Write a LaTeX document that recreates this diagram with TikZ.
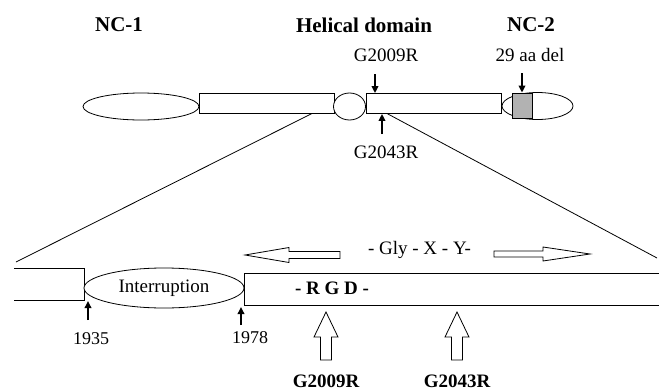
\documentclass[tikz,border=0pt]{standalone}
\usepackage{fontspec}
\setmainfont{Liberation Serif}
\usetikzlibrary{positioning, arrows.meta, shapes.geometric}
\tikzset{
  dom/.style={draw, line width=0.8pt, inner sep=0pt, fill=white},
  drect/.style={dom, rectangle, minimum width=135pt, minimum height=20pt},
  dell/.style={dom, ellipse},
  lbl/.style={font=\fontsize{19}{21}\selectfont, inner sep=0pt},
  blbl/.style={font=\fontsize{19}{21}\selectfont\bfseries, inner sep=0pt},
  hdr/.style={font=\fontsize{21}{24}\selectfont\bfseries, inner sep=0pt},
  poslbl/.style={font=\fontsize{18}{20}\selectfont, inner sep=0pt},
  mut/.style={-{Triangle[length=7pt,width=6.5pt]}, line width=2.2pt},
  zoomln/.style={line width=0.8pt},
  hollow/.style={draw, line width=0.8pt, fill=white, line join=miter},
}

\begin{document}
\begin{tikzpicture}[x=1pt, y=-1pt]
\useasboundingbox (0,0) rectangle (659,391);
% headings
\node[hdr] (nc1lab) at (119,25) {NC-1};
\node[hdr] (hxlab) at (364,25) {Helical domain};
\node[hdr] (nc2lab) at (531,25) {NC-2};
% whole molecule
\node[dell, minimum width=116pt, minimum height=27pt] (nc1) at (141,106.5) {};
\node[drect] (hx1) at (266.5,103.5) {};
\node[dell, minimum width=32pt, minimum height=27pt] (hinge) at (349.5,106.5) {};
\node[drect] (hx2) at (433.5,103.5) {};
\node[dell, minimum width=71pt, minimum height=27pt] (nc2) at (537.5,106) {};
\node[dom, fill=gray!60, minimum width=20pt, minimum height=25pt] (del) at (522,105.5) {};
% mutations, upper row
\node[lbl] (g09top) at (386,55) {G2009R};
\node[lbl] (dellab) at (530,55) {29 aa del};
\node[lbl] (g43top) at (386,152) {G2043R};
\coordinate (g09tail) at (375,74);
\coordinate (deltail) at (522,73);
\coordinate (g43tail) at (382,134);
\draw[mut] (g09tail) -- (hx2.north -| g09tail);
\draw[mut] (deltail) -- (del.north);
\draw[mut] (g43tail) -- (hx2.south -| g43tail);
% zoom lines
\coordinate (zlt) at (312,113.5);
\coordinate (zlb) at (16,262);
\coordinate (zrt) at (387,113.5);
\coordinate (zrb) at (657,258);
\draw[zoomln] (zlt) -- (zlb);
\draw[zoomln] (zrt) -- (zrb);
% enlarged region
\draw[zoomln] (14,268) -- (84,268) -- (84,300) -- (14,300);
\draw[zoomln] (660,273) -- (244,273) -- (244,305) -- (660,305);
\node[dell, font=\fontsize{19}{21}\selectfont, minimum width=160pt, minimum height=40pt] (intr) at (164,288) {Interruption};
\node[blbl] (rgd) at (332,288) {- R G D -};
\node[lbl] (gxy) at (419.5,250) {- Gly - X - Y-};
\draw[hollow] (245,255) -- (289,247.5) -- (289,251.5) -- (340,251.5) -- (340,258.5) -- (289,258.5) -- (289,262.5) -- cycle;
\draw[hollow] (590,254) -- (543,261) -- (543,257) -- (494,257) -- (494,251) -- (543,251) -- (543,247) -- cycle;
% boundaries of the interruption
\coordinate (t35) at (88,301);
\coordinate (p35) at (88,320);
\coordinate (t78) at (241,307);
\coordinate (p78) at (241,325);
\draw[mut] (p35) -- (t35);
\draw[mut] (p78) -- (t78);
\node[poslbl] (n35) at (91,339) {1935};
\node[poslbl] (n78) at (250,338) {1978};
% mutations, enlarged
\foreach \cx/\nm in {326/G2009R, 457/G2043R} {
  \draw[hollow] (\cx,312) -- ++(12,25) -- ++(-6.5,0) -- ++(0,23) -- ++(-11,0) -- ++(0,-23) -- ++(-6.5,0) -- cycle;
  \node[blbl] (m\cx) at (\cx,381.5) {\nm};
}
\end{tikzpicture}
\end{document}
